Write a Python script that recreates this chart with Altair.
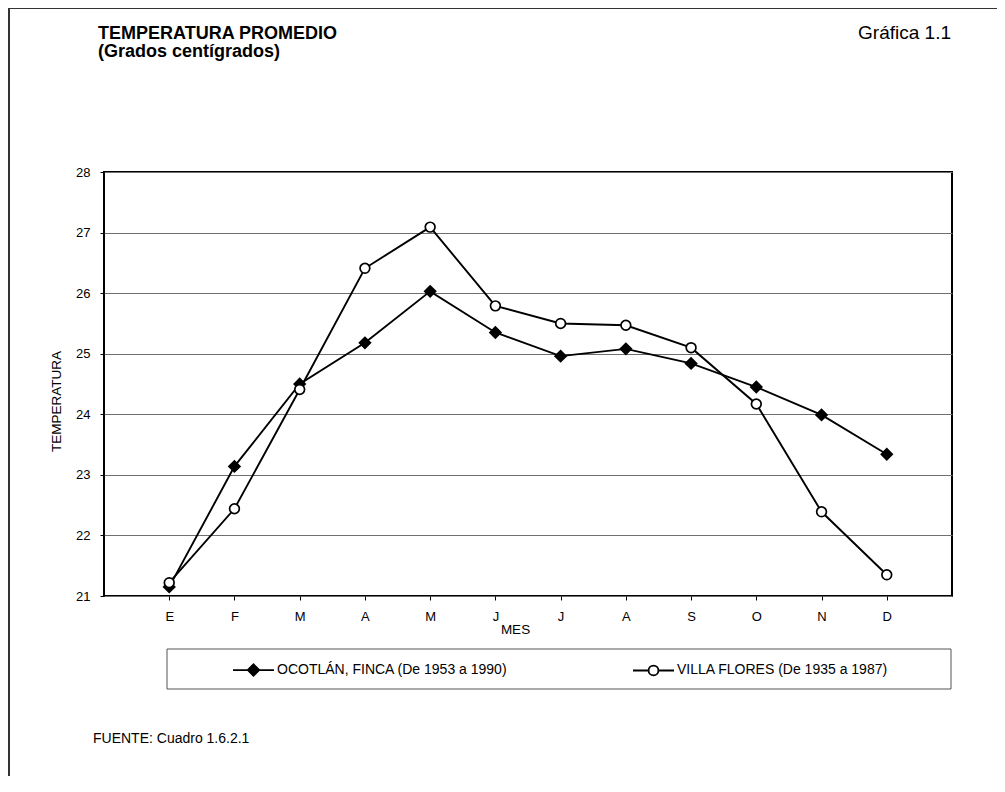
import json
import altair as alt
import pandas as pd

# ---- data ----
months = ["E", "F", "M", "A", "M", "J", "J", "A", "S", "O", "N", "D"]
month_num = list(range(1, 13))
ocotlan = [21.15, 23.14, 24.50, 25.18, 26.03, 25.35, 24.96, 25.08, 24.84, 24.45, 23.99, 23.34]
villa = [21.22, 22.44, 24.41, 26.41, 27.09, 25.79, 25.50, 25.47, 25.10, 24.17, 22.39, 21.35]
series_names = ["OCOTLÁN, FINCA (De 1953 a 1990)", "VILLA FLORES (De 1935 a 1987)"]
y_ticks = list(range(21, 29))

rows = []
for i, m in enumerate(month_num):
    rows.append({"mes": m, "temp": ocotlan[i], "serie": series_names[0]})
    rows.append({"mes": m, "temp": villa[i], "serie": series_names[1]})
df = pd.DataFrame(rows)

FONT = "Liberation Sans"
W, H = 848, 424

label_expr = json.dumps(months) + "[datum.value - 1]"

x_enc = alt.X(
    "mes:Q",
    scale=alt.Scale(domain=[0, 13], nice=False, zero=False),
    axis=alt.Axis(
        values=month_num, labelExpr=label_expr, grid=False, domain=False,
        tickSize=4, tickColor="black", labelPadding=10, labelFontSize=13,
        labelColor="black", labelFont=FONT,
        title="MES", titleFont=FONT, titleFontSize=13.5, titleFontWeight="normal",
        titleColor="black", titleX=411, titleY=33, titleBaseline="middle",
        titleAlign="center",
    ),
)
y_enc = alt.Y(
    "temp:Q",
    scale=alt.Scale(domain=[21, 28], nice=False, zero=False),
    axis=alt.Axis(
        values=y_ticks, grid=True, gridColor="#6f6f6f", gridWidth=1,
        domain=False, tickSize=4, tickColor="black", labelPadding=10,
        labelFontSize=13, labelColor="black", labelFont=FONT,
        title="TEMPERATURA", titleFont=FONT, titleFontSize=13.5,
        titleFontWeight="normal", titleColor="black", titleAngle=-90,
        titleX=-48, titleY=229, titleBaseline="middle", titleAlign="center",
    ),
)

base = alt.Chart(df)

lines = base.mark_line(color="black", strokeWidth=1.9).encode(
    x=x_enc, y=y_enc, detail="serie:N"
)

points = base.mark_point(filled=True, stroke="black", strokeWidth=1.7, opacity=1).encode(
    x=x_enc,
    y=y_enc,
    shape=alt.Shape("serie:N", scale=alt.Scale(domain=series_names, range=["diamond", "circle"]), legend=None),
    fill=alt.Fill("serie:N", scale=alt.Scale(domain=series_names, range=["black", "white"]), legend=None),
    size=alt.Size("serie:N", scale=alt.Scale(domain=series_names, range=[120, 95]), legend=None),
)

# legend symbols: line segment + marker
diamond_path = "M-1,0L1,0M0,-0.28L0.28,0L0,0.28L-0.28,0Z"
circle_path = ("M-1,0L-0.24,0M0.24,0L1,0"
               "M-0.24,0A0.24,0.24 0 1,1 0.24,0A0.24,0.24 0 1,1 -0.24,0Z")

leg = alt.Legend(
    title=None, orient="none", legendX=128, legendY=476.5, direction="horizontal",
    symbolSize=1681, symbolStrokeColor="black", symbolStrokeWidth=1.8,
    labelFont=FONT, labelFontSize=14, labelColor="black", labelOffset=2,
    labelLimit=0, columnPadding=121, padding=0,
)
legend_layer = base.mark_point(filled=True, strokeWidth=1.8, opacity=1).encode(
    shape=alt.Shape("serie:N", scale=alt.Scale(domain=series_names, range=[diamond_path, circle_path]), legend=leg),
    fill=alt.Fill("serie:N", scale=alt.Scale(domain=series_names, range=["black", "white"]), legend=leg),
    stroke=alt.Stroke("serie:N", scale=alt.Scale(domain=series_names, range=["black", "black"]), legend=leg),
).transform_filter("false")

one = pd.DataFrame({"k": [0]})
deco = alt.Chart(one)

legend_box = deco.mark_rect(fill="white", fillOpacity=0, stroke="#555", strokeWidth=1).encode(
    x=alt.value(63), x2=alt.value(847), y=alt.value(477), y2=alt.value(517)
)
frame_top = deco.mark_rule(color="#333", strokeWidth=2).encode(
    x=alt.value(-95), x2=alt.value(893), y=alt.value(-164)
)
frame_left = deco.mark_rule(color="#333", strokeWidth=2).encode(
    x=alt.value(-95), y=alt.value(-164), y2=alt.value(604)
)

title1 = deco.mark_text(text="TEMPERATURA PROMEDIO", align="left", baseline="alphabetic",
                        font=FONT, fontSize=18, fontWeight="bold", color="black").encode(
    x=alt.value(-6), y=alt.value(-133))
title2 = deco.mark_text(text="(Grados centígrados)", align="left", baseline="alphabetic",
                        font=FONT, fontSize=18, fontWeight="bold", color="black").encode(
    x=alt.value(-6), y=alt.value(-115))
grafica = deco.mark_text(text="Gráfica 1.1", align="right", baseline="alphabetic",
                         font=FONT, fontSize=19, color="black").encode(
    x=alt.value(847), y=alt.value(-133))
fuente = deco.mark_text(text="FUENTE: Cuadro 1.6.2.1", align="left", baseline="alphabetic",
                        font=FONT, fontSize=14, color="black").encode(
    x=alt.value(-11), y=alt.value(571))

chart = alt.layer(
    frame_top, frame_left, legend_box, lines, points, legend_layer,
    title1, title2, grafica, fuente,
).resolve_scale(
    shape="independent", fill="independent", stroke="independent"
).properties(
    width=W, height=H,
    autosize=alt.AutoSizeParams(type="none"),
    padding={"left": 96, "top": 164, "right": 45, "bottom": 180},
    background="white",
).configure_view(
    stroke="black", strokeWidth=2
)

chart.save("out.html", embed_options={"renderer": "svg", "actions": False})
